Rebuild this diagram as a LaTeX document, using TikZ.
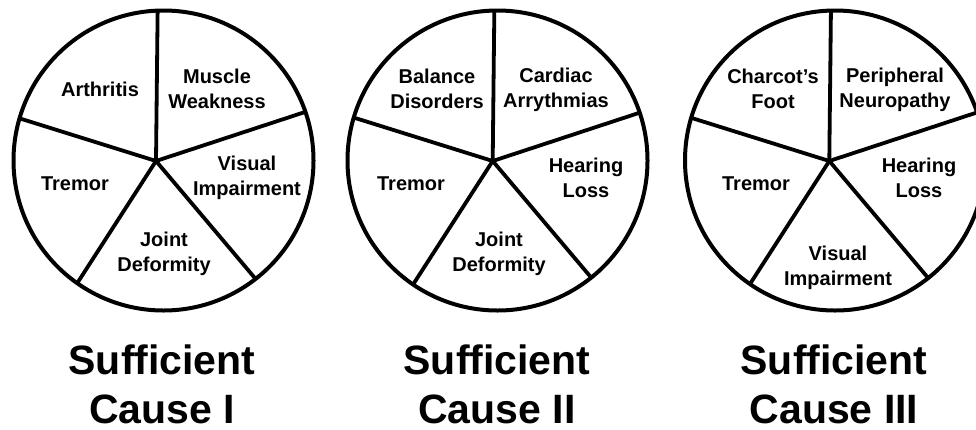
\documentclass[tikz,border=0pt]{standalone}
\usepackage{fontspec}
\setmainfont{Liberation Sans}
\begin{document}
\begin{tikzpicture}[x=1pt,y=-1pt,
  rim/.style={line width=4pt,draw=black},
  spoke/.style={line width=3.8pt,draw=black,line cap=round},
  lbl/.style={font=\fontsize{20}{25}\selectfont\bfseries,align=center,inner sep=0pt},
  ttl/.style={font=\fontsize{41}{49}\selectfont\bfseries,align=center,inner sep=0pt}]
\clip (0,0) rectangle (976,429);
\fill[white] (0,0) rectangle (976,429);
% centres and hubs
\coordinate (c1) at (163.5,160.5); \coordinate (h1) at (156,161);
\coordinate (c2) at (497.5,160.5); \coordinate (h2) at (492.7,161);
\coordinate (c3) at (835,160.5);   \coordinate (h3) at (829.3,161);
\foreach \i in {1,2,3}{
  \begin{scope}
    \clip (c\i) circle (150);
    \draw[spoke] (h\i) -- ++(2.5,-230);
    \draw[spoke] (h\i) -- ++(219,-72);
    \draw[spoke] (h\i) -- ++(147,174);
    \draw[spoke] (h\i) -- ++(-118,183);
    \draw[spoke] (h\i) -- ++(-208,-65);
  \end{scope}
  \draw[rim] (c\i) circle (150);
}
% circle 1
\node[lbl] (a1) at (100,89) {Arthritis};
\node[lbl] (a2) at (217,89) {Muscle\\Weakness};
\node[lbl] (a3) at (247,178) {Visual\\Impairment};
\node[lbl] (a4) at (75,184) {Tremor};
\node[lbl] (a5) at (164,254) {Joint\\Deformity};
% circle 2
\node[lbl] (b1) at (437,89) {Balance\\Disorders};
\node[lbl] (b2) at (556,90) {Cardiac\\Arrythmias};
\node[lbl] (b3) at (586,178) {Hearing\\Loss};
\node[lbl] (b4) at (411,184) {Tremor};
\node[lbl] (b5) at (499,254) {Joint\\Deformity};
% circle 3
\node[lbl] (d1) at (773,89) {Charcot’s\\Foot};
\node[lbl] (d2) at (895,90) {Peripheral\\Neuropathy};
\node[lbl] (d3) at (919,178) {Hearing\\Loss};
\node[lbl] (d4) at (756,184) {Tremor};
\node[lbl] (d5) at (838,268) {Visual\\Impairment};
% titles
\node[ttl] (t1) at (162,384) {Sufficient\\Cause I};
\node[ttl] (t2) at (497,384) {Sufficient\\Cause II};
\node[ttl] (t3) at (834,384) {Sufficient\\Cause III};
\end{tikzpicture}
\end{document}
